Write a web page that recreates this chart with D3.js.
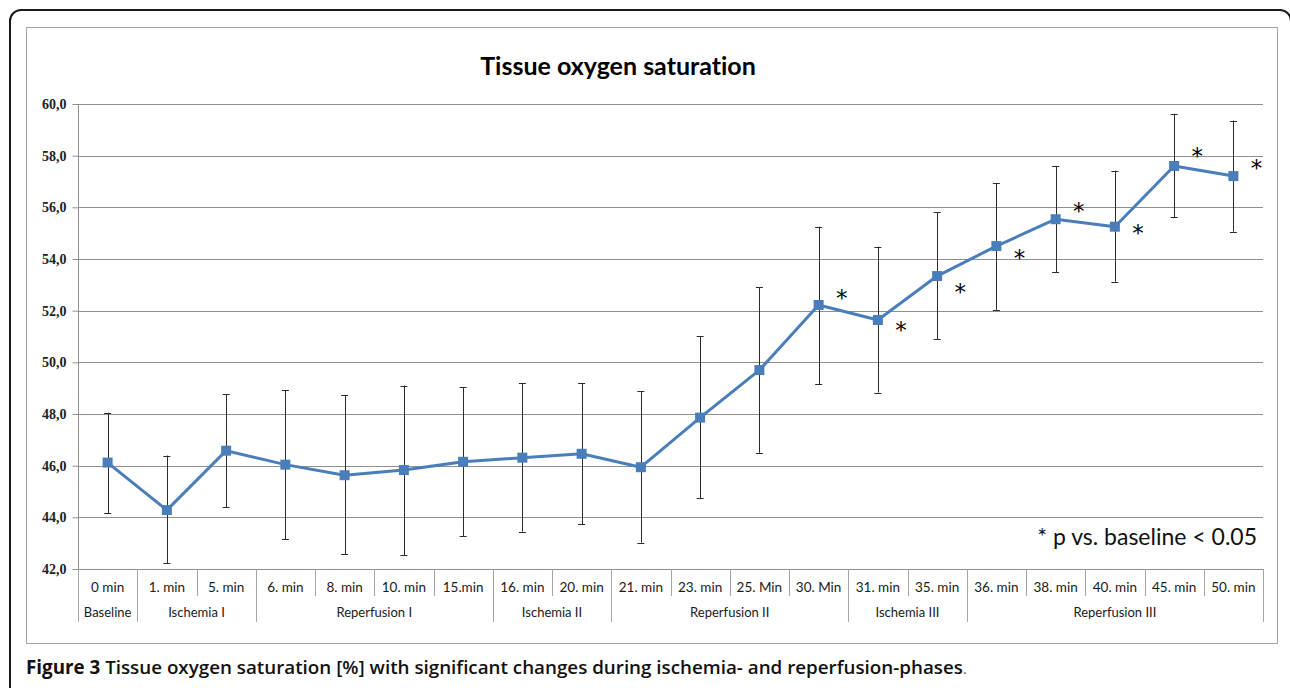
<!DOCTYPE html>
<html>
<head>
<meta charset="utf-8">
<script src="https://cdn.jsdelivr.net/npm/d3@7"></script>
<style>
  html, body { margin: 0; padding: 0; background: #fff; }
  svg { display: block; }
  text { font-variant-ligatures: none; }
</style>
</head>
<body>
<svg id="chart" width="1290" height="688"></svg>
<script>
// ---- data ----
const categories = ["0 min","1. min","5. min","6. min","8. min","10. min","15.min","16. min","20. min","21. min","23. min","25. Min","30. Min","31. min","35. min","36. min","38. min","40. min","45. min","50. min"];
const means   = [46.12,44.28,46.58,46.04,45.63,45.83,46.15,46.31,46.46,45.94,47.86,49.70,52.22,51.64,53.34,54.50,55.54,55.25,57.60,57.21];
const upper   = [48.05,46.39,48.76,48.93,48.74,49.10,49.03,49.19,49.19,48.89,51.02,52.90,55.25,54.48,55.81,56.93,57.60,57.42,59.62,59.36];
const lower   = [44.16,42.22,44.39,43.16,42.57,42.53,43.28,43.45,43.74,43.02,44.74,46.50,49.15,48.83,50.89,52.03,53.49,53.12,55.62,55.06];
const groupNames = ["Baseline","Ischemia I","Reperfusion I","Ischemia II","Reperfusion II","Ischemia III","Reperfusion III"];
const groupSizes = [1,2,4,2,4,2,5];
const starCategories = ["30. Min","31. min","35. min","36. min","38. min","40. min","45. min","50. min"];
const starValues = [52.68,51.45,52.92,54.23,56.05,55.20,58.18,57.72];
const yTicks = [42,44,46,48,50,52,54,56,58,60];
const titleText = "Tissue oxygen saturation";
const noteText = "* p vs. baseline < 0.05";
const captionBold = "Figure 3";
const captionRest = " Tissue oxygen saturation [%] with significant changes during ischemia- and reperfusion-phases";

// ---- layout ----
const svg = d3.select("#chart");
const plot = {left: 78, right: 1263, top: 104, bottom: 569};
const sans = "Lato, 'Open Sans', sans-serif";

const x = d3.scaleBand().domain(categories).range([plot.left, plot.right]).padding(0);
const y = d3.scaleLinear().domain([42, 60]).range([plot.bottom, plot.top]);
const locale = d3.formatLocale({decimal: ",", thousands: ".", grouping: [3], currency: ["", ""]});
const fmt = locale.format(".1f");

// outer frame (right and bottom edges fall just outside the picture)
svg.append("rect").attr("x", 10).attr("y", 10).attr("width", 1281).attr("height", 688)
  .attr("rx", 11).attr("fill", "none").attr("stroke", "#1a1a1a").attr("stroke-width", 2);
// chart area border
svg.append("rect").attr("x", 26.5).attr("y", 27.5).attr("width", 1251).attr("height", 616)
  .attr("fill", "#fff").attr("stroke", "#a6a6a6").attr("stroke-width", 1);

// title
svg.append("text").attr("x", 618).attr("y", 75).attr("text-anchor", "middle")
  .attr("font-family", "Lato, sans-serif").attr("font-weight", "bold").attr("font-size", 25)
  .attr("fill", "#000").text(titleText);

// gridlines
svg.append("g").selectAll("line").data(yTicks).join("line")
  .attr("x1", plot.left).attr("x2", plot.right)
  .attr("y1", d => Math.round(y(d)) + 0.5).attr("y2", d => Math.round(y(d)) + 0.5)
  .attr("stroke", "#8f8f8f").attr("stroke-width", 1);

// y axis
const yAxis = d3.axisLeft(y).tickValues(yTicks).tickFormat(fmt).tickSize(6).tickPadding(6);
const gy = svg.append("g").attr("transform", `translate(${plot.left + 0.5},0)`).call(yAxis);
gy.select(".domain").attr("stroke", "#8f8f8f").attr("d", `M0,${plot.top}V${plot.bottom}`);
gy.selectAll(".tick line").attr("stroke", "#8f8f8f");
gy.selectAll(".tick text").attr("font-family", "'Liberation Serif', serif").attr("font-weight", "bold")
  .attr("font-size", 14).attr("fill", "#222");

// category table below axis
const gx = svg.append("g");
let cum = [0];
groupSizes.forEach(s => cum.push(cum[cum.length - 1] + s));
const bw = x.bandwidth();
const boundaries = d3.range(categories.length + 1);
gx.selectAll("line.sep").data(boundaries).join("line").attr("class", "sep")
  .attr("x1", i => Math.round(plot.left + i * bw) + 0.5).attr("x2", i => Math.round(plot.left + i * bw) + 0.5)
  .attr("y1", plot.bottom)
  .attr("y2", i => cum.includes(i) ? 622 : 596)
  .attr("stroke", "#a6a6a6").attr("stroke-width", 1);
gx.selectAll("text.cat").data(categories).join("text").attr("class", "cat")
  .attr("x", d => x(d) + bw / 2).attr("y", 592).attr("text-anchor", "middle")
  .attr("font-family", sans).attr("font-size", 13.5).attr("fill", "#1a1a1a").text(d => d);
gx.selectAll("text.grp").data(groupNames).join("text").attr("class", "grp")
  .attr("x", (d, i) => plot.left + (cum[i] + cum[i + 1]) / 2 * bw).attr("y", 617).attr("text-anchor", "middle")
  .attr("font-family", sans).attr("font-size", 13).attr("fill", "#1a1a1a").text(d => d);

// error bars
const eb = svg.append("g").attr("stroke", "#2b2b2b").attr("stroke-width", 1);
const idx = d3.range(categories.length);
eb.selectAll("line.v").data(idx).join("line").attr("class", "v")
  .attr("x1", i => Math.round(x(categories[i]) + bw / 2) + 0.5).attr("x2", i => Math.round(x(categories[i]) + bw / 2) + 0.5)
  .attr("y1", i => y(upper[i])).attr("y2", i => y(lower[i]));
["upper", "lower"].forEach(k => {
  const arr = k === "upper" ? upper : lower;
  eb.selectAll("line." + k).data(idx).join("line").attr("class", k)
    .attr("x1", i => x(categories[i]) + bw / 2 - 3.5).attr("x2", i => x(categories[i]) + bw / 2 + 3.5)
    .attr("y1", i => Math.round(y(arr[i])) + 0.5).attr("y2", i => Math.round(y(arr[i])) + 0.5);
});

// line
const line = d3.line().x((d, i) => x(categories[i]) + bw / 2).y(d => y(d));
svg.append("path").datum(means).attr("d", line).attr("fill", "none")
  .attr("stroke", "#4a7ebb").attr("stroke-width", 3).attr("stroke-linejoin", "round");
// markers
const ms = 10;
svg.append("g").selectAll("rect").data(means).join("rect")
  .attr("x", (d, i) => x(categories[i]) + bw / 2 - ms / 2).attr("y", d => y(d) - ms / 2)
  .attr("width", ms).attr("height", ms).attr("fill", "#4a7ebb");

// significance stars
svg.append("g").selectAll("text").data(starCategories).join("text")
  .attr("x", (d, i) => x(d) + bw / 2 + 23).attr("y", (d, i) => y(starValues[i]) + 13)
  .attr("text-anchor", "middle").attr("font-family", "'DejaVu Sans', sans-serif").attr("font-size", 23)
  .attr("fill", "#000").text("*");

// note
svg.append("text").attr("x", 1257).attr("y", 545).attr("text-anchor", "end")
  .attr("font-family", sans).attr("font-size", 23).attr("fill", "#111").text(noteText);

// caption
const cap = svg.append("text").attr("x", 26).attr("y", 674)
  .attr("font-family", "'Open Sans', sans-serif").attr("font-size", 18.8).attr("fill", "#111");
cap.append("tspan").attr("font-weight", "bold").text(captionBold);
cap.append("tspan").attr("font-weight", "600").text(captionRest);
cap.append("tspan").attr("font-weight", "normal").attr("font-size", 14).attr("fill", "#555").text(".");
</script>
</body>
</html>
